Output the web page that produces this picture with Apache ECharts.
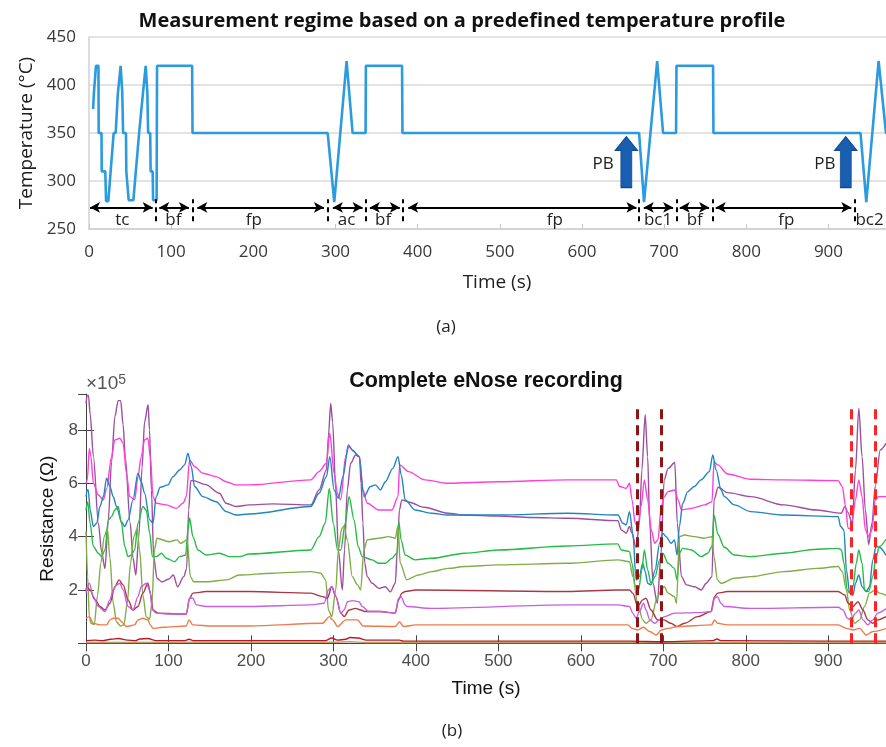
<!DOCTYPE html>
<html><head><meta charset="utf-8">
<script src="https://cdn.jsdelivr.net/npm/echarts/dist/echarts.min.js"></script>
<style>html,body{margin:0;padding:0;background:#fff;overflow:hidden}#c{width:886px;height:747px}</style>
</head><body><div id="c"></div><script>
// ---------- (a) temperature profile ----------
const tempProfile = [[5,375],[6,392],[8.5,420],[11.5,420],[11.8,350],[15.2,350],[15.5,310],[19.8,310],[20.8,279],[23.5,279],[30,350],[32.5,350],[35,390],[36.6,390],[38.5,420],[40.5,392],[41.5,350],[45,350],[45.4,310],[47.8,310],[48.3,280],[54,280],[61,350],[62.5,350],[65.5,390],[67,390],[69,420],[71,392],[72,350],[74.5,350],[75,310],[77.5,310],[78,280],[82.3,280],[82.8,420],[125.5,420],[126,350],[290.5,350],[298.5,278],[313.5,425],[320.8,350],[336.6,350],[337,420],[381,420],[381.5,350],[669.5,350],[675.5,278],[691.5,425],[698.7,350],[714.5,350],[715,420],[759.5,420],[760,350],[939,350],[946,278],[961,425],[970,350],[990,350]];
const segStart = [1.2,85.5,131.8,296.8,341.8,388.5,675.2,719,762.8,936];
const segEnd   = [77.5,121.6,285.9,333,378.3,666.3,710.9,754.7,927.8,985];
const segLevel = 272.5;
const segSeparators = [81,125.7,290.4,336.6,382.4,669.5,714.9,758.8,931.9];
const segLabels = ['tc','bf','fp','ac','bf','fp','bc1','bf','fp','bc2'];
const segLabelX = [40.5,102.6,200.7,313.5,358,567,692.6,737.2,848.7,950];
const segLabelY = 259.4;
const pbX = [654,921];
const pbY = 319.7;
const pbTextX = [625.7,895.7];
const pbTextY = 317.5;

// ---------- (b) eNose recording (values in 1e5 Ohm) ----------
const sPurple = [[0,9.0],[1.5,9.3],[3,9.3],[5,8.6],[9,7.0],[15,4.5],[19,3.4],[23,2.8],[27,4.6],[31,6.8],[35,8.5],[39,9.1],[42,9.1],[45,8.2],[47.6,7.0],[53.6,4.5],[57,3.2],[60.4,2.56],[64,4.0],[68,6.6],[71,8.3],[75.3,8.95],[77,8.0],[79.3,5.75],[82.1,3.25],[86,2.44],[92,2.3],[100,2.4],[106,2.56],[111,2.12],[118.6,2.5],[122,2.8],[124.5,5.0],[127,6.1],[130,6.1],[145,5.95],[161.8,5.63],[169.8,5.25],[181.9,5.13],[198,5.19],[226,5.23],[272.6,5.19],[282.6,5.75],[291.5,6.5],[294,7.8],[296.7,9.0],[299,8.3],[302.8,5.75],[306,3.5],[310.8,2.0],[313.5,3.5],[316.8,5.75],[320.9,6.75],[326.9,7.06],[331.7,7.0],[333.5,6.0],[335.8,4.5],[338,3.0],[341,2.5],[347,2.25],[355,2.06],[363,2.12],[369.1,1.93],[375,2.25],[377.5,3.5],[380,5.0],[383,5.38],[391,5.3],[410,5.1],[439,4.88],[459,4.81],[500,4.77],[540,4.72],[584,4.69],[645,4.6],[649,4.25],[655,4.13],[659,4.38],[662,4.13],[667,3.6],[671,4.5],[674,6.5],[678,8.57],[681,7.0],[683.5,4.5],[687.5,2.25],[692.7,1.5],[697,3.25],[701,6.13],[705.8,6.56],[713.9,6.78],[717,4.5],[722,2.5],[728,2.19],[738,2.12],[746,2.0],[752,2.25],[759,2.5],[761.5,5.38],[766.4,5.85],[778,5.65],[806,5.5],[846,5.19],[886,5.0],[916,4.88],[920,5.13],[924,4.9],[929,4.5],[933,6.5],[937,8.82],[941,7.0],[945,5.0],[949,3.7],[953,4.5],[957,5.9],[963,7.25],[970,7.5]];
const sMagenta = [[0,6.0],[1.6,6.13],[4,7.3],[6,7.0],[8.9,6.0],[15,5.56],[21,5.38],[25,5.8],[31,7.0],[35,7.63],[41,7.69],[45,7.5],[49,6.38],[53,5.5],[59,5.38],[63,6.25],[67,7.0],[71,7.63],[75,7.69],[78,7.0],[81.3,5.5],[85.3,5.25],[97.4,5.19],[109.5,5.06],[117.6,5.25],[121.6,5.5],[125.6,6.88],[131.6,6.63],[141.7,6.38],[157.8,6.25],[169.9,6.06],[182,5.94],[198,5.94],[272.6,6.13],[282.6,6.44],[291.5,6.75],[295.6,7.88],[300.8,6.38],[304.8,5.63],[308.8,5.38],[314.8,7.0],[318.8,7.38],[324.9,7.19],[331.7,7.0],[335.8,5.75],[341,5.25],[355,5.0],[371,5.0],[378.3,5.5],[380.3,6.69],[391,6.44],[411,6.13],[439,6.0],[500,6.06],[584,6.13],[643,6.13],[647,5.88],[655,5.81],[659,6.0],[662,5.38],[666,4.5],[669,4.38],[673,5.13],[677,6.13],[681,5.38],[685.5,4.25],[689.5,3.75],[693.5,3.88],[697.5,5.13],[701,5.5],[705.8,5.69],[713.9,5.75],[718,5.38],[722,5.0],[734,5.06],[750,5.19],[759,5.31],[761.5,6.81],[766,6.69],[778,6.35],[806,6.15],[846,6.13],[912,6.1],[917,5.88],[921,5.13],[924,4.31],[928,4.31],[933,5.38],[937,6.13],[941,5.5],[945,4.25],[949,4.0],[953,4.25],[957,5.38],[961,5.5],[970,5.5]];
const sBlue = [[0,5.5],[1.6,5.75],[2.8,5.75],[5,5.0],[8.9,4.38],[13,4.5],[16.9,5.13],[21,5.5],[25,6.19],[29,5.88],[33,5.5],[37,5.13],[43,4.56],[47,4.38],[51,4.63],[57,5.38],[63,6.38],[67,6.06],[71,5.63],[77.3,4.63],[81.3,4.5],[85,5.5],[90,5.85],[99.4,5.94],[105.5,6.25],[113.5,6.5],[119.6,6.69],[123.6,7.13],[127.6,6.63],[131.6,5.88],[141.7,5.5],[157.8,5.31],[170,4.94],[182,4.81],[198,4.85],[272.6,5.13],[282.6,5.63],[291.5,6.25],[295.6,7.0],[300.8,5.75],[306,5.44],[311.6,6.25],[318.1,7.44],[322.9,7.25],[331,7.0],[337,5.5],[345,5.88],[351,5.94],[357,5.75],[363,6.06],[372,6.56],[378.3,7.0],[382.3,6.3],[387,5.38],[399,5.0],[419,4.88],[439,4.81],[500,4.81],[584,4.88],[645,4.81],[651,4.5],[655,4.44],[659,4.94],[663,4.13],[667,2.38],[671,2.5],[675,3.0],[678,2.69],[681,2.25],[685,2.19],[690,2.75],[695.5,3.75],[699.3,4.13],[703.4,4.0],[709.4,3.75],[713.5,3.88],[716.7,3.31],[719.5,4.38],[723.5,5.25],[729.6,5.69],[737.6,5.88],[745.7,6.13],[755.8,6.44],[760,7.06],[764,6.5],[770,5.75],[774,5.5],[786,5.19],[806,4.94],[846,4.81],[912,4.75],[915,4.38],[919,4.25],[922,2.75],[926,1.88],[930,1.81],[933,2.25],[937,2.56],[941,2.12],[946,1.94],[950,2.12],[954,3.13],[958,3.63],[962,3.6],[970,3.3]];
const sGreen = [[0,5.0],[2,5.3],[5,4.5],[8.9,3.63],[15,3.38],[19,3.25],[23,3.5],[27,4.63],[31,4.75],[35,5.0],[39,5.13],[43,4.5],[47,3.63],[51,3.25],[55,3.31],[59,3.5],[63,4.5],[69,5.13],[73,5.0],[77.3,4.13],[80.5,3.25],[85.3,3.25],[91.4,3.38],[97.4,3.19],[107.5,3.06],[113.5,3.25],[120.8,3.31],[123.6,4.25],[125.6,4.7],[129.6,4.0],[135.7,3.5],[145.7,3.31],[161.8,3.38],[173.9,3.25],[186,3.25],[198,3.35],[272.6,3.5],[282.6,4.0],[290,4.5],[295,5.81],[299.8,4.5],[305,3.5],[309,3.5],[314.3,4.5],[319,5.5],[325,4.63],[330,3.63],[335,3.25],[347,3.13],[355,3.0],[363,3.0],[371,3.19],[377,3.38],[379.3,4.56],[382,3.88],[387,3.31],[399,3.13],[419,3.19],[459,3.38],[500,3.5],[584,3.65],[645,3.73],[649,3.5],[659,3.44],[662,3.0],[666,2.13],[670,2.0],[674,2.75],[677,3.5],[681,2.75],[685,2.25],[690,2.5],[695.5,3.13],[699.3,3.38],[705.8,3.0],[713.5,2.81],[716.7,2.38],[719.5,3.38],[723.5,3.56],[734,3.5],[746,3.25],[754,3.38],[759,3.63],[761.5,4.81],[766,4.1],[774,3.6],[786,3.31],[806,3.25],[846,3.38],[886,3.53],[912,3.56],[916,3.5],[919,3.0],[923,2.0],[926,1.88],[930,2.12],[934,3.0],[937,3.5],[941,3.0],[944,2.0],[949,1.94],[954,2.5],[958,3.25],[962,3.63],[970,3.9]];
const sOlive = [[0,4.2],[2,2.5],[4,1.0],[6,0.75],[10,0.7],[14,1.8],[18,3.0],[22,4.0],[26,4.3],[29,3.2],[33,1.5],[37,0.8],[42,0.65],[46,0.7],[50,1.5],[54,3.0],[58,4.0],[62,4.3],[65,3.5],[69,1.8],[73,1.0],[77,0.9],[80,1.5],[83,3.5],[86,3.94],[100.6,3.81],[110.5,3.88],[114.6,3.75],[122.6,3.88],[126.6,2.5],[130.6,2.31],[146.7,2.31],[171,2.38],[186,2.56],[226,2.63],[272.6,2.69],[284.6,2.63],[290.6,2.38],[294,1.25],[298,1.0],[302.8,2.0],[306,3.5],[310,4.3],[312.8,4.4],[316.8,3.88],[322.9,2.5],[329,2.2],[333,2.0],[337,3.5],[341,3.88],[355,3.94],[367,4.0],[375,3.94],[378.3,4.4],[381,3.0],[389,2.38],[403,2.56],[419,2.69],[439,2.81],[459,2.88],[500,2.94],[584,3.0],[645,3.13],[659,3.06],[663,2.5],[669,1.5],[675,0.88],[679,0.75],[685,0.88],[693,1.75],[698,2.0],[701,2.13],[705.8,1.88],[713.5,1.75],[716,1.5],[719.5,4.0],[725.6,4.06],[737.6,4.0],[749.7,3.94],[759,4.0],[761.5,3.25],[765.5,2.38],[770,2.25],[786,2.44],[806,2.5],[846,2.69],[886,2.81],[912,2.88],[917,2.69],[922,2.0],[926,1.25],[932,0.75],[938,0.88],[944,1.38],[950,1.88],[957,2.0],[962,1.88],[970,1.8]];
const sDarkRed = [[0,2.0],[1.2,2.12],[4.8,2.0],[10.9,1.63],[17,1.38],[23,1.25],[29,1.5],[35,2.12],[40,2.38],[45,2.19],[51,1.63],[57,1.25],[63,1.38],[69,1.88],[75,2.25],[78,1.88],[81.3,1.25],[87.4,1.13],[113.5,1.1],[121.6,1.1],[125.6,1.69],[129.6,1.88],[145.7,1.94],[198,1.94],[272.6,1.88],[286.7,1.75],[292.7,1.69],[298,2.12],[303,1.75],[309,1.13],[313,1.0],[319,1.25],[327,1.31],[333,1.25],[339,1.19],[355,1.19],[375,1.13],[379,1.63],[383,1.88],[387,1.94],[400,2.0],[584,1.94],[645,2.0],[659,2.0],[663,1.88],[669,1.38],[675,1.63],[679,1.69],[685,1.25],[693,0.88],[701,0.88],[709,0.75],[716.5,0.63],[725.6,0.75],[741.7,1.0],[757.8,1.19],[762,1.75],[766,1.88],[778,1.94],[912,1.94],[920,1.81],[924,1.5],[930,1.38],[936,1.56],[942,1.25],[948,0.88],[954,0.75],[960,0.88],[970,1.0]];
const sViolet = [[0,1.9],[4,2.25],[8.9,1.75],[15,1.38],[23,1.19],[29,1.63],[33,2.0],[37,2.19],[41,2.25],[45,2.0],[51,1.38],[57,1.25],[63,1.75],[67,2.12],[73,2.25],[77.3,2.0],[80.5,1.25],[85.3,1.13],[97.4,1.1],[121.6,1.1],[125.6,1.69],[129.6,1.69],[133.7,1.44],[145.7,1.38],[198,1.38],[272.6,1.44],[288.7,1.5],[294,2.0],[298,2.13],[303,1.75],[309,1.13],[313,1.25],[317,1.56],[323,1.6],[331,1.56],[335,1.38],[343,1.19],[359,1.19],[375,1.13],[379,1.69],[382,1.75],[387,1.44],[389,1.38],[419,1.31],[584,1.44],[645,1.44],[659,1.38],[663,1.13],[667,0.94],[671,1.19],[676,1.5],[679,1.25],[683.5,0.88],[689.5,0.75],[695.5,0.88],[701.5,1.0],[713.5,1.13],[741.7,1.15],[758.5,1.19],[762,1.69],[765.5,1.75],[770,1.5],[774,1.38],[806,1.31],[912,1.35],[918,1.25],[923,0.94],[928,0.88],[933,1.13],[937,1.25],[942,0.88],[948,0.69],[954,0.88],[960,1.13],[970,1.3]];
const sOrange = [[0,0.94],[4,1.0],[8.9,0.75],[17,0.69],[25,0.69],[29,0.88],[33,0.94],[39,0.94],[43,0.81],[49,0.63],[59,0.69],[63,0.88],[69,0.94],[75,0.88],[78,0.69],[81.3,0.56],[93.4,0.6],[121.6,0.65],[124.8,0.88],[129.6,0.69],[153.8,0.65],[198,0.65],[286.7,0.75],[295,1.0],[299,0.88],[305,0.63],[315,0.88],[329,0.88],[336,0.65],[375,0.63],[380,0.81],[385,0.63],[400,0.69],[584,0.69],[657,0.69],[662,0.56],[669,0.5],[676,0.6],[683.5,0.44],[691.5,0.31],[697.5,0.5],[705.8,0.56],[718,0.63],[758.5,0.69],[762,0.88],[766,0.75],[778,0.69],[912,0.69],[922,0.56],[930,0.5],[938,0.56],[946,0.31],[954,0.44],[970,0.55]];
const sRedLow = [[0,0.1],[10,0.12],[20,0.1],[30,0.15],[40,0.18],[50,0.12],[60,0.1],[65,0.16],[75,0.18],[85,0.1],[120,0.1],[125,0.15],[130,0.1],[290,0.1],[298,0.2],[305,0.12],[315,0.15],[320,0.22],[330,0.2],[340,0.12],[380,0.12],[385,0.08],[500,0.08],[660,0.08],[700,0.06],[760,0.1],[765,0.16],[770,0.1],[900,0.08],[970,0.08]];
const sTanLow = [[0,0.03],[300,0.04],[320,0.06],[340,0.03],[970,0.03]];
const pbLines = [668.2,698,928,957.4];
const pbLineColors = ['#8e1515','#8e1515','#ff2424','#ff2424'];
const pbLineTop = 8.9;

const chart = echarts.init(document.getElementById('c'), null, {renderer:'canvas'});
const FA = '"Open Sans", Lato, sans-serif';
const FB = '"Liberation Sans", Arial, sans-serif';

const eSeries = [
  ['sPurple', sPurple, '#9c4f9f'],
  ['sMagenta', sMagenta, '#ff3fdc'],
  ['sBlue', sBlue, '#2284c2'],
  ['sGreen', sGreen, '#26bb46'],
  ['sOlive', sOlive, '#80ad46'],
  ['sDarkRed', sDarkRed, '#a83848'],
  ['sViolet', sViolet, '#c95ee3'],
  ['sOrange', sOrange, '#ef7a4a'],
  ['sTanLow', sTanLow, '#b8a060'],
  ['sRedLow', sRedLow, '#c0142c']
].map(([n,d,c]) => ({
  name:n, type:'line', xAxisIndex:1, yAxisIndex:1, data:d, showSymbol:false, symbol:'none',
  smooth:0.3, smoothMonotone:'x', lineStyle:{color:c, width:1.4}, z:3, silent:true
}));

const option = {
  animation:false,
  backgroundColor:'#fff',
  grid:[
    {left:89, top:37, right:0, height:192},
    {left:86, top:394, right:-3, height:249.3}
  ],
  xAxis:[
    {type:'value', gridIndex:0, min:0, max:970, interval:100,
     axisLine:{show:true, lineStyle:{color:'#d0d0d0', width:1.5}},
     axisTick:{show:true, inside:true, length:5, lineStyle:{color:'#c8c8c8'}},
     axisLabel:{color:'#383838', fontSize:17, fontFamily:FA, margin:15, showMaxLabel:false},
     splitLine:{show:false}},
    {type:'value', gridIndex:1, min:0, max:970, interval:100,
     axisLine:{show:true, lineStyle:{color:'#444', width:1}},
     axisTick:{show:true, inside:true, length:8, lineStyle:{color:'#444'}},
     axisLabel:{color:'#4d4d4d', fontSize:17, fontFamily:FB, margin:10, showMaxLabel:false},
     splitLine:{show:false},
     name:'Time (s)', nameLocation:'middle', nameGap:36,
     nameTextStyle:{fontFamily:FB, fontSize:19, color:'#111'}},
    {type:'value', gridIndex:1, min:0, max:970, interval:100, position:'top',
     axisLine:{show:true, lineStyle:{color:'#444', width:1}},
     axisTick:{show:true, inside:true, length:8, lineStyle:{color:'#444'}},
     axisLabel:{show:false}, splitLine:{show:false}}
  ],
  yAxis:[
    {type:'value', gridIndex:0, min:250, max:450, interval:50,
     axisLine:{show:true, lineStyle:{color:'#d0d0d0', width:1.5}},
     axisTick:{show:false},
     axisLabel:{color:'#383838', fontSize:17, fontFamily:FA, margin:13},
     splitLine:{show:true, lineStyle:{color:'#dadada', width:1.5}},
     name:'Temperature (°C)', nameLocation:'middle', nameGap:50,
     nameTextStyle:{fontFamily:FA, fontSize:19, color:'#202020'}},
    {type:'value', gridIndex:1, min:0, max:9.35, interval:2,
     axisLine:{show:true, lineStyle:{color:'#444', width:1}},
     axisTick:{show:true, inside:true, length:8, lineStyle:{color:'#444'}},
     axisLabel:{color:'#4d4d4d', fontSize:17, fontFamily:FB, margin:8, showMinLabel:false, showMaxLabel:false},
     splitLine:{show:false},
     name:'Resistance (Ω)', nameLocation:'middle', nameGap:26,
     nameTextStyle:{fontFamily:FB, fontSize:19, color:'#111'}},
    {type:'value', gridIndex:1, min:0, max:9.35, interval:2, position:'right',
     axisLine:{show:false},
     axisTick:{show:true, inside:true, length:8, lineStyle:{color:'#444'}},
     axisLabel:{show:false}, splitLine:{show:false}}
  ],
  graphic:[
    {type:'text', x:462, y:21, style:{text:'Measurement regime based on a predefined temperature profile', font:'bold 20px '+FA, fill:'#111', textAlign:'center', textVerticalAlign:'middle'}},
    {type:'text', x:497, y:283, style:{text:'Time (s)', font:'19px '+FA, fill:'#202020', textAlign:'center', textVerticalAlign:'middle'}},
    {type:'text', x:446, y:327, style:{text:'(a)', font:'17px '+FA, fill:'#222', textAlign:'center', textVerticalAlign:'middle'}},
    {type:'text', x:486, y:381, style:{text:'Complete eNose recording', font:'bold 21.5px '+FB, fill:'#111', textAlign:'center', textVerticalAlign:'middle'}},
    {type:'text', x:86, y:384, style:{rich:{a:{font:'19px '+FB, fill:'#555'}, s:{font:'14px '+FB, fill:'#555', verticalAlign:'bottom', padding:[0,0,8,0]}}, text:'{a|×10}{s|5}', fill:'#555', textAlign:'left', textVerticalAlign:'middle'}},
    {type:'text', x:452, y:731, style:{text:'(b)', font:'17px '+FA, fill:'#222', textAlign:'center', textVerticalAlign:'middle'}}
  ],
  series:[
    {name:'temperature', type:'line', xAxisIndex:0, yAxisIndex:0, data:tempProfile, showSymbol:false, symbol:'none',
     lineStyle:{color:'#2b9be0', width:2.6}, z:3, silent:true},
    {name:'segments', type:'line', xAxisIndex:0, yAxisIndex:0, data:[], silent:true,
     markLine:{silent:true, symbol:['arrow','arrow'], symbolSize:[8,10], label:{show:false},
       lineStyle:{color:'#000', width:2, type:'solid'},
       data: segStart.map((s,i)=>[{coord:[s,segLevel]},{coord:[segEnd[i],segLevel]}])}},
    {name:'separators', type:'line', xAxisIndex:0, yAxisIndex:0, data:[], silent:true,
     markLine:{silent:true, symbol:'none', label:{show:false},
       lineStyle:{color:'#000', width:2, type:[5,4]},
       data: segSeparators.map(s=>[{coord:[s,258]},{coord:[s,281]}])}},
    {name:'segLabels', type:'scatter', xAxisIndex:0, yAxisIndex:0, symbolSize:1, itemStyle:{color:'rgba(0,0,0,0)', opacity:1}, silent:true,
     data: segLabels.map((l,i)=>({name:l, value:[segLabelX[i], segLabelY]})),
     label:{show:true, position:'inside', formatter:'{b}', fontFamily:FA, fontSize:17, color:'#222'}},
    {name:'PB', type:'scatter', xAxisIndex:0, yAxisIndex:0, silent:true,
     symbol:'path://M11,0 L22,14 L16.5,14 L16.5,52 L5.5,52 L5.5,14 L0,14 Z', symbolSize:[22,51],
     itemStyle:{color:'#1a5eb2', borderColor:'#154a8a', borderWidth:1, opacity:1},
     data: pbX.map(x=>[x,pbY]), z:4},
    {name:'PBtext', type:'scatter', xAxisIndex:0, yAxisIndex:0, symbolSize:1, itemStyle:{color:'rgba(0,0,0,0)', opacity:1}, silent:true,
     data: pbTextX.map(x=>({name:'PB', value:[x,pbTextY]})),
     label:{show:true, position:'inside', formatter:'{b}', fontFamily:FA, fontSize:17, color:'#222'}},
    ...eSeries,
    {name:'pbMarks', type:'line', xAxisIndex:1, yAxisIndex:1, data:[], silent:true, z:5,
     markLine:{silent:true, symbol:'none', label:{show:false},
       data: pbLines.map((x,i)=>[{coord:[x,0], lineStyle:{color:pbLineColors[i], width:3, type:[10,6]}},{coord:[x,pbLineTop]}])}}
  ]
};
chart.setOption(option);
</script></body></html>
